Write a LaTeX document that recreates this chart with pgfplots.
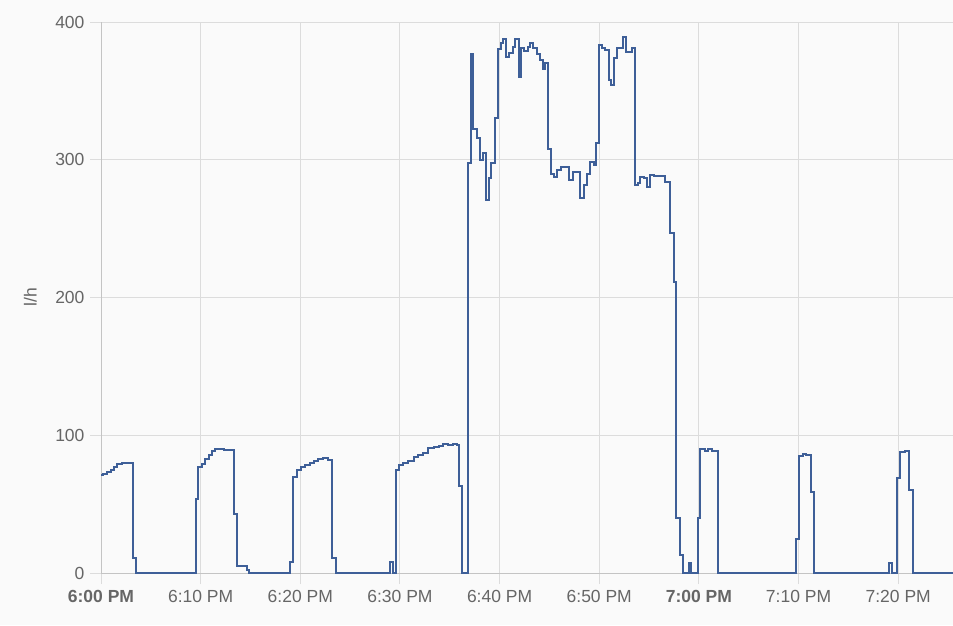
\documentclass[border=0pt]{standalone}
\usepackage{pgfplots}
\pgfplotsset{compat=1.18}
\usepackage{fontspec}
\setmainfont{Liberation Sans}
\definecolor{bg}{HTML}{FAFAFA}
\definecolor{gridgray}{HTML}{DCDCDC}
\definecolor{axisgray}{HTML}{C4C4C4}
\definecolor{labelgray}{HTML}{666666}
\definecolor{linecol}{HTML}{3E5F98}
\begin{document}
\begin{tikzpicture}[x=1pt,y=1pt]
\path[use as bounding box] (0,0) rectangle (953,625);
\fill[bg] (0,0) rectangle (953,625);
\begin{axis}[
  at={(101pt,52pt)}, anchor=south west,
  scale only axis, width=852pt, height=551pt,
  xmin=0, xmax=85.5, ymin=0, ymax=400,
  clip=false,
  axis x line*=bottom, axis y line*=left,
  axis line style={draw=axisgray, line width=1pt, -},
  grid=major,
  major grid style={draw=gridgray, line width=1pt},
  tick align=outside,
  major tick length=11pt,
  tick style={draw=gridgray, line width=1pt},
  xtick={0,10,...,80},
  xticklabels={\textbf{6:00 PM},6:10 PM,6:20 PM,6:30 PM,6:40 PM,6:50 PM,\textbf{7:00 PM},7:10 PM,7:20 PM},
  ytick={0,100,200,300,400},
  /pgf/number format/assume math mode=true,
  ticklabel style={font=\fontsize{17.5}{20}\selectfont, text=labelgray},
  xticklabel style={yshift=-3pt},
  yticklabel style={xshift=-2pt},
  ylabel={l/h},
  ylabel style={font=\fontsize{17.5}{20}\selectfont, text=labelgray, at={(axis description cs:-0.083,0.5)}, anchor=center},
]
\addplot[const plot, color=linecol, line width=2pt, line join=miter] coordinates {
(0,71) (0.23,72) (0.57,73.5) (0.97,75) (1.3,77) (1.64,79) (2.08,80) (2.6,79.5) (3.18,11) (3.48,0)
(9.54,53.5) (9.77,77) (10.1,79) (10.44,82.5) (10.84,86) (11.18,88.6) (11.45,90) (12.3,89.5) (13.38,43) (13.68,5) (14.63,2) (14.89,0)
(18.98,8) (19.31,69.5) (19.65,75) (20.05,77) (20.48,78.4) (20.98,80) (21.39,81) (21.82,82.5) (22.32,83.3) (22.82,82) (23.2,10.7) (23.6,0)
(29.0,8) (29.3,0) (29.6,75) (29.9,78.4) (30.35,80) (30.85,81) (31.36,84.5) (31.86,86) (32.36,87) (32.86,90.5) (33.37,91.7) (33.87,92.5) (34.37,93.4) (34.87,93) (35.37,93.4) (35.7,93) (35.94,63) (36.2,0)
(36.78,298) (37.12,377) (37.38,322) (37.72,316) (38.05,300) (38.29,305) (38.62,271) (38.89,286.5) (39.16,297.4) (39.49,330.5) (39.79,380.4) (40.13,384.5) (40.39,387.4) (40.63,374.4) (40.96,377.3) (41.3,381.6) (41.57,387.4) (41.9,360) (42.14,381) (42.47,378.6) (42.84,382) (43.07,385) (43.4,381) (43.74,376.8) (44.08,372.4) (44.35,365.7) (44.58,370)
(44.85,308) (45.15,290) (45.42,287.8) (45.75,292.5) (46.15,295) (46.92,285) (47.36,291) (48.09,272) (48.43,281.7) (48.76,290) (49.1,298.6) (49.43,296) (49.7,312)
(49.93,383.3) (50.27,381) (50.6,379.7) (50.93,358) (51.2,354) (51.44,373.7) (51.78,381) (52.38,389.4) (52.71,378.4) (53.28,381)
(53.61,281.7) (53.85,283) (54.12,287.8) (54.45,286.5) (54.79,280.5) (55.12,289) (55.45,288) (56.12,288) (56.63,284) (57.13,246.6) (57.46,211.5) (57.73,39.7) (58.06,13) (58.37,0) (58.97,7.5) (59.24,0)
(59.87,39.7) (60.14,89.8) (60.64,88.5) (60.96,89.8) (61.31,88.5) (61.91,0)
(69.74,24.4) (70.08,85) (70.45,86.3) (70.78,86) (71.25,59) (71.52,0)
(79.05,7.5) (79.38,0) (79.89,68.7) (80.22,87.6) (80.72,88.4) (81.12,60) (81.46,0) (85.5,0)
};
\end{axis}
\end{tikzpicture}
\end{document}
